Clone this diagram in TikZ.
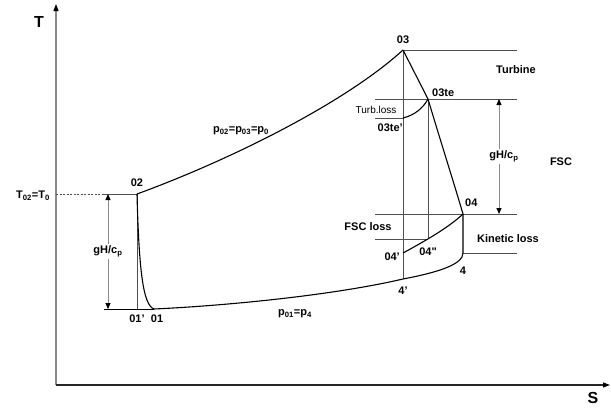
\documentclass[tikz,border=0pt]{standalone}
\usepackage{fontspec}
\setmainfont{Liberation Sans}
\usetikzlibrary{arrows.meta,positioning}
\definecolor{axisgrey}{HTML}{8A8A8A}
\definecolor{guidegrey}{HTML}{505050}

\begin{document}
\begin{tikzpicture}[
  x=1pt, y=-1pt,
  every node/.style={font=\fontsize{11}{13}\selectfont\bfseries, inner sep=0pt},
  state/.style={line width=1.1pt, black},
  guide/.style={draw=guidegrey, line width=0.6pt},
  axis/.style={line width=1.1pt, -{Triangle[length=7pt,width=5pt,color=black]}},
  dim/.style={draw=axisgrey, line width=0.9pt,
    {Triangle[length=6pt,width=5pt,color=black]}-{Triangle[length=6pt,width=5pt,color=black]}},
  plain/.style={font=\fontsize{10}{12}\selectfont},
  big/.style={font=\fontsize{16}{18}\selectfont\bfseries}]
\useasboundingbox (0,0) rectangle (611,408);
% axes
\coordinate (o) at (56,385);
\coordinate (ttop) at (56,4);
\coordinate (sright) at (610,385);
\draw[axis, draw=axisgrey] (o) -- (ttop);
\draw[axis, draw=black!85] (o) -- (sright);
\node[big] (lT) at (39,22) {T};
\node[big] (lS) at (593,398) {S};
% states
\coordinate (p02) at (137,194);
\coordinate (p01p) at (137,309);
\coordinate (p01) at (154,309);
\coordinate (p03) at (403,50);
\coordinate (p03te) at (428,99);
\coordinate (p03tep) at (403,118);
\coordinate (p04) at (463,214);
\coordinate (p04pp) at (428,239);
\coordinate (p04p) at (403,253);
\coordinate (p4) at (463,253);
\coordinate (p4p) at (403,279);
% guide ends
\coordinate (t0) at (56,194);
\coordinate (b02) at (104,194);
\coordinate (b01) at (104,309);
\coordinate (e03) at (517,50);
\coordinate (w03te) at (375,99);
\coordinate (e03te) at (517,99);
\coordinate (w03tep) at (375,118);
\coordinate (w04) at (375,214);
\coordinate (e04) at (517,214);
\coordinate (w04pp) at (375,239);
\coordinate (e4) at (517,253);
\coordinate (dtop) at (108,194);
\coordinate (dbot) at (108,309);
\coordinate (rtop) at (499,99);
\coordinate (rbot) at (499,214);
% guide lines
\draw[guide, dash pattern=on 2pt off 1.5pt] (t0) -- (b02);
\draw[guide] (b02) -- (p02);
\draw[guide] (p02) -- (p01p);
\draw[guide] (p03) -- (e03);
\draw[guide] (p03) -- (p4p);
\draw[guide] (w03te) -- (e03te);
\draw[guide] (w03tep) -- (p03tep);
\draw[guide] (p03te) -- (p04pp);
\draw[guide] (w04) -- (e04);
\draw[guide] (w04pp) -- (p04pp);
\draw[guide] (p4) -- (e4);
% process curves
\draw[state] (p02) .. controls (139,270) and (143,305) .. (p01);
\draw[state, line width=0.8pt] (b01) -- (p01);
\draw[state] (p02) .. controls (230,160) and (345,103) .. (p03);
\draw[state] (p03) .. controls (416,74) .. (p03te)
  .. controls (439,136) and (453,180) .. (p04);
\draw[state] (p03tep) .. controls (415,115) and (423,108) .. (p03te);
\draw[state] (p04p) .. controls (425,241) and (448,228) .. (p04);
\draw[state] (p04) -- (p4) .. controls (463,264) and (440,272) .. (p4p)
  .. controls (330,296) and (220,306) .. (p01);
% heads
\draw[dim] (dtop) -- (dbot)
  node[midway, fill=white, inner sep=2pt] (lgh1) {gH/c\textsubscript{p}};
\draw[dim] (rtop) -- (rbot)
  node[midway, fill=white, inner sep=2pt, xshift=5pt] (lgh2) {gH/c\textsubscript{p}};
% labels
\node[above=7pt of p02] (l02) {02};
\node[below=6pt of p01p] (l01p) {01'};
\node[below=6pt of p01, xshift=3pt] (l01) {01};
\node[above=6pt of p03] (l03) {03};
\node[above right=2pt and 4pt of p03te] (l03te) {03te};
\node[below left=6pt and 0pt of p03tep] (l03tep) {03te'};
\node[plain] (lturb) at (376,110) {Turb.loss};
\node[above right=7pt and 2pt of p04] (l04) {04};
\node[below=9pt of p04pp] (l04pp) {04\textquotedbl};
\node[left=3pt of p04p, yshift=-4pt] (l04p) {04'};
\node[below=14pt of p4] (l4) {4};
\node[below=8pt of p4p] (l4p) {4'};
\node (lp01) at (295,314) {p\textsubscript{01}=p\textsubscript{4}};
\node (lp02) at (241,131) {p\textsubscript{02}=p\textsubscript{03}=p\textsubscript{0}};
\node (lt02) at (33,196) {T\textsubscript{02}=T\textsubscript{0}};
\node (lfscloss) at (368,227) {FSC loss};
\node (lkin) at (508,239) {Kinetic loss};
\node (lturbine) at (516,70) {Turbine};
\node (lfsc) at (561,162) {FSC};
\end{tikzpicture}
\end{document}
